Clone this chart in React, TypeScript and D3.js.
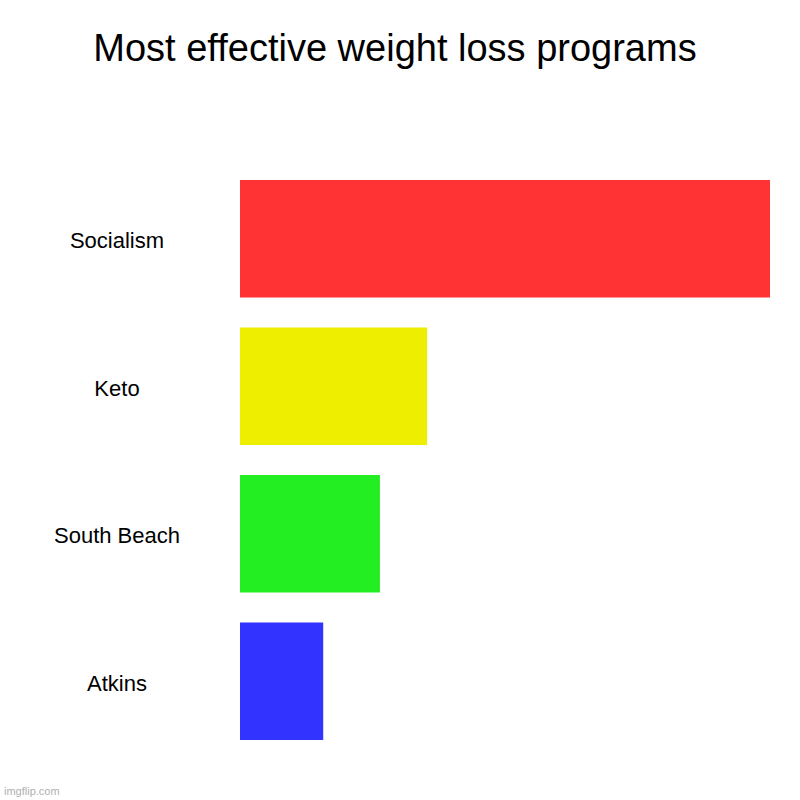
import * as d3 from 'd3';

const CATEGORIES = ['Socialism', 'Keto', 'South Beach', 'Atkins'];
const VALUES = [100, 35.3, 26.4, 15.7];
const COLORS = ['#ff3333', '#eeee00', '#22ee22', '#3333ff'];

const W = 800;
const H = 800;

export default function App() {
  const y = d3.scaleBand<string>()
    .domain(CATEGORIES)
    .range([180, 740])
    .paddingInner(0.2034)
    .paddingOuter(0);

  const x = d3.scaleLinear()
    .domain([0, 100])
    .range([240, 770]);

  const font = '"Liberation Sans", Arial, Helvetica, sans-serif';

  return (
    <svg
      width={W}
      height={H}
      style={{ position: 'absolute', top: 0, left: 0, background: '#fff' }}
    >
      <rect x={0} y={0} width={W} height={H} fill="#fff" />
      {/* Title */}
      <text x={395} y={61} textAnchor="middle" fontSize={38} fontFamily={font} fill="#000">
        Most effective weight loss programs
      </text>

      {CATEGORIES.map((c, i) => {
        const by = y(c) ?? 0;
        const bh = y.bandwidth();
        return (
          <g key={c}>
            <rect x={x(0)} y={by} width={x(VALUES[i]) - x(0)} height={bh} fill={COLORS[i]} />
            <text
              x={117}
              y={by + bh / 2 + 2}
              textAnchor="middle"
              dominantBaseline="central"
              fontSize={22}
              fontFamily={font}
              fill="#000"
            >
              {c}
            </text>
          </g>
        );
      })}

      {/* Watermark */}
      <text x={4} y={795} fontSize={11} fontFamily={font} fill="#b0b0b0">
        imgflip.com
      </text>
    </svg>
  );
}
